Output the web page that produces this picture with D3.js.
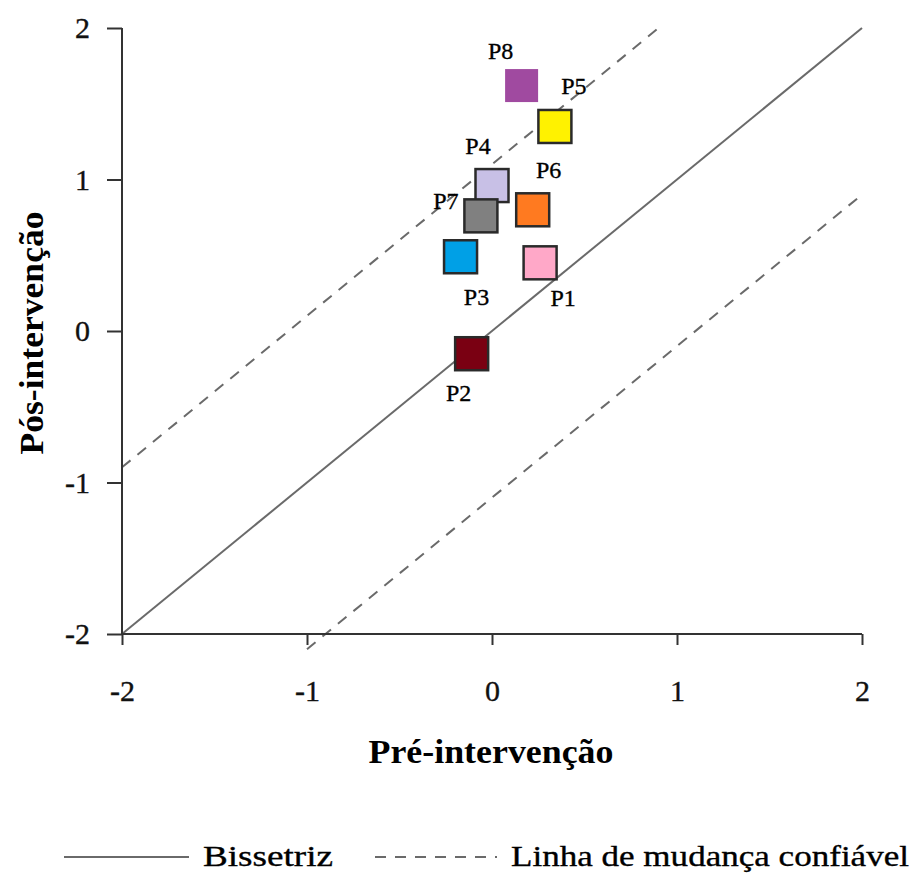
<html>
<head>
<script src="https://d3js.org/d3.v7.min.js"></script>
<style>
  html, body { margin: 0; padding: 0; background: #fff; }
  svg { display: block; }
  text { font-family: "Liberation Serif", "Times New Roman", serif; fill: #000; }
  .reg { stroke: #000; stroke-width: 0.35px; }
  .axis path, .axis line { stroke: #333; stroke-width: 2px; }
  .axis text { font-size: 30px; font-family: "Liberation Serif", "Times New Roman", serif; fill: #111; stroke: #111; stroke-width: 0.35px; }
</style>
</head>
<body>
<svg id="chart" width="916" height="874"></svg>
<script>
// participants, pre / post values, fill colours
const participants = ["P1", "P2", "P3", "P4", "P5", "P6", "P7", "P8"];
const preValues  = [0.26, -0.11, -0.17, 0.00, 0.34, 0.22, -0.06, 0.16];
const posValues  = [0.45, -0.15, 0.49, 0.96, 1.35, 0.80, 0.76, 1.62];
const pointColors = ["#ffa8c8", "#7a0012", "#00a0e6", "#c8c0e6", "#fff200", "#ff7a20", "#808080", "#a04aa0"];
const hasBorder = [true, true, true, true, true, true, true, false];

const axisTicks = [-2, -1, 0, 1, 2];
const changeLimit = 1.1;   // reliable change offset

// label offsets from square centre (layout only)
const labelDx = [23, -13, 16, -14, 19, 16, -35, -21];
const labelDy = [43, 47, 48, -32, -32, -32, -7, -27];

const svg = d3.select("#chart");
const x = d3.scaleLinear().domain([-2, 2]).range([122, 862]);
const y = d3.scaleLinear().domain([-2, 2]).range([634, 28]);

// lines
const line = d3.line().x(d => x(d[0])).y(d => y(d[1]));
svg.append("path")
  .attr("d", line([[-2, -2], [2, 2]]))
  .attr("fill", "none").attr("stroke", "#6a6a6a").attr("stroke-width", 2);
svg.append("path")
  .attr("d", line([[-2, -2 + changeLimit], [2 - changeLimit, 2]]))
  .attr("fill", "none").attr("stroke", "#6a6a6a").attr("stroke-width", 2)
  .attr("stroke-dasharray", "11,9");
svg.append("path")
  .attr("d", line([[-2 + changeLimit - 0.1, -2 - 0.1], [2, 2 - changeLimit]]))
  .attr("fill", "none").attr("stroke", "#6a6a6a").attr("stroke-width", 2)
  .attr("stroke-dasharray", "11,9");

// axes
svg.append("g").attr("class", "axis")
  .attr("transform", "translate(0,634)")
  .call(d3.axisBottom(x).tickValues(axisTicks).tickFormat(d => String(d))
    .tickSize(11).tickPadding(35).tickSizeOuter(0))
  .call(g => g.select(".domain").attr("d", "M122,0H862"));
svg.append("g").attr("class", "axis")
  .attr("transform", "translate(122,0)")
  .call(d3.axisLeft(y).tickValues(axisTicks).tickFormat(d => String(d))
    .tickSize(15).tickPadding(17).tickSizeOuter(0))
  .call(g => g.select(".domain").attr("d", "M0,28V634"));

// points
const pts = participants.map((p, i) => ({ p, pre: preValues[i], pos: posValues[i], c: pointColors[i], b: hasBorder[i], dx: labelDx[i], dy: labelDy[i] }));
const size = 33;
svg.selectAll("rect.pt").data(pts).join("rect")
  .attr("class", "pt")
  .attr("x", d => x(d.pre) - size / 2)
  .attr("y", d => y(d.pos) - size / 2)
  .attr("width", size).attr("height", size)
  .attr("fill", d => d.c)
  .attr("stroke", d => d.b ? "#2a2a2a" : "none")
  .attr("stroke-width", 2.5);
svg.selectAll("text.lbl").data(pts).join("text")
  .attr("class", "lbl reg")
  .attr("x", d => x(d.pre) + d.dx)
  .attr("y", d => y(d.pos) + d.dy)
  .attr("text-anchor", "middle")
  .style("font-size", "24px")
  .text(d => d.p);

// axis titles
svg.append("text")
  .attr("x", 491).attr("y", 763)
  .attr("text-anchor", "middle")
  .style("font-size", "34px").style("font-weight", "bold")
  .attr("textLength", 245).attr("lengthAdjust", "spacingAndGlyphs")
  .text("Pré-intervenção");
svg.append("text")
  .attr("transform", "translate(43,333) rotate(-90)")
  .attr("text-anchor", "middle")
  .style("font-size", "34px").style("font-weight", "bold")
  .attr("textLength", 243).attr("lengthAdjust", "spacingAndGlyphs")
  .text("Pós-intervenção");

// legend
const legend = svg.append("g");
legend.append("line").attr("x1", 64).attr("x2", 189).attr("y1", 857).attr("y2", 857)
  .attr("stroke", "#6a6a6a").attr("stroke-width", 2);
legend.append("text").attr("class", "reg").attr("x", 203).attr("y", 866).style("font-size", "30px")
  .attr("textLength", 130).attr("lengthAdjust", "spacingAndGlyphs").text("Bissetriz");
legend.append("line").attr("x1", 375).attr("x2", 497).attr("y1", 857).attr("y2", 857)
  .attr("stroke", "#6a6a6a").attr("stroke-width", 2).attr("stroke-dasharray", "11,9");
legend.append("text").attr("class", "reg").attr("x", 511).attr("y", 866).style("font-size", "30px")
  .attr("textLength", 398).attr("lengthAdjust", "spacingAndGlyphs").text("Linha de mudança confiável");
</script>
</body>
</html>
